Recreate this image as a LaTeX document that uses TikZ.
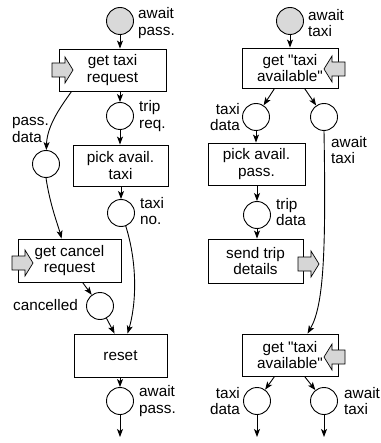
\documentclass[tikz,border=0pt]{standalone}
\usepackage{fontspec}
\setmainfont{Liberation Sans}
\usetikzlibrary{arrows.meta}
\definecolor{tokgray}{RGB}{217,217,217}
\definecolor{arrgray}{RGB}{214,214,214}
\begin{document}
\begin{tikzpicture}[x=1pt,y=-1pt,
  every node/.style={font=\fontsize{15.3}{16.5}\selectfont},
  place/.style={circle,draw,line width=0.9pt,minimum size=27pt,inner sep=0pt},
  token/.style={place,fill=tokgray},
  trans/.style={draw,line width=0.9pt,align=center,inner sep=0pt},
  lbl/.style={inner sep=0pt,align=left},
  lblr/.style={inner sep=0pt,align=right},
  arc/.style={line width=0.9pt,-{Stealth[length=8pt,width=6pt,inset=2pt]}},
  ioarrow/.style={draw,line width=0.7pt,fill=arrgray},
  inarrow/.pic={\path[ioarrow] (0,-7) -- (13,-7) -- (13,-13) -- (21,0) -- (13,13) -- (13,7) -- (0,7) -- cycle;}
]
\useasboundingbox (0,0) rectangle (380,443);

% ---------- left net ----------
\node[token] (p1) at (120,21) {};
\node[lbl,anchor=west] (l1) at (138,23) {await\\pass.};
\node[trans,minimum width=107pt,minimum height=42pt] (t1) at (112.5,70) {get taxi\\request};
\node[place] (p2) at (120,116) {};
\node[lbl,anchor=west] (l2) at (139,116) {trip\\req.};
\node[place] (p3) at (46,164) {};
\node[lbl,anchor=west] (l3) at (12,130) {pass.\\data};
\node[trans,minimum width=95pt,minimum height=41pt] (t2) at (120.5,165.5) {pick avail.\\taxi};
\node[place] (p4) at (121,213) {};
\node[lbl,anchor=west] (l4) at (140,211) {taxi\\no.};
\node[trans,minimum width=103pt,minimum height=43pt] (t3) at (69.5,260.5) {get cancel\\request};
\node[place] (p5) at (100,306) {};
\node[lbl,anchor=east] (l5) at (78,305) {cancelled};
\node[trans,minimum width=93pt,minimum height=43pt] (t4) at (120.5,355.5) {reset};
\node[place] (p6) at (120,401) {};
\node[lbl,anchor=west] (l6) at (139,401) {await\\pass.};
\coordinate (e1) at (120,437);

\draw[arc] (p1) -- (p1 |- t1.north);
\draw[arc] (t1.south -| p2) -- (p2);
\draw[arc] ([xshift=13pt]t1.south west) .. controls (62,105) and (47,125) .. (p3);
\draw[arc] (p2) -- (p2 |- t2.north);
\draw[arc] (t2.south -| p4) -- (p4);
\draw[arc] (p3.south) .. controls (50,205) and (58,225) .. ([xshift=44pt]t3.north west);
\draw[arc] ([xshift=65pt]t3.south west) -- (p5);
\draw[arc] (p5) -- ([xshift=41pt]t4.north west);
\draw[arc] (p4.-70) .. controls (138,265) and (136,305) .. ([xshift=54pt]t4.north west);
\draw[arc] (t4.south -| p6) -- (p6);
\draw[arc] (p6) -- (e1);

\pic at (52,70) {inarrow};
\pic at (12,263) {inarrow};

% ---------- right net ----------
\node[token] (q1) at (290,21) {};
\node[lbl,anchor=west] (m1) at (308,23) {await\\taxi};
\node[trans,minimum width=96pt,minimum height=40pt] (r1) at (290,68) {get \textquotedbl taxi\\available\textquotedbl};
\node[place] (q2) at (256,117) {};
\node[lblr,anchor=east] (m2) at (240,117) {taxi\\data};
\node[place] (q3) at (324,117) {};
\node[lbl,anchor=west] (m3) at (331,150) {await\\taxi};
\node[trans,minimum width=97pt,minimum height=42pt] (r2) at (256.5,164) {pick avail.\\pass.};
\node[place] (q4) at (257,215) {};
\node[lbl,anchor=west] (m4) at (276,212) {trip\\data};
\node[trans,minimum width=95pt,minimum height=44pt] (r3) at (255.5,261) {send trip\\details};
\node[trans,minimum width=96pt,minimum height=42pt] (r4) at (290,355) {get \textquotedbl taxi\\available\textquotedbl};
\node[place] (q5) at (257,401) {};
\node[lblr,anchor=east] (m5) at (240,401) {taxi\\data};
\node[place] (q6) at (324,401) {};
\node[lbl,anchor=west] (m6) at (344,401) {await\\taxi};
\coordinate (e2) at (257,437);
\coordinate (e3) at (324,437);

\draw[arc] (q1) -- (q1 |- r1.north);
\draw[arc] ([xshift=33pt]r1.south west) -- (q2);
\draw[arc] ([xshift=63pt]r1.south west) -- (q3);
\draw[arc] (q2) -- (q2 |- r2.north);
\draw[arc] (r2.south -| q4) -- (q4);
\draw[arc] (q4) -- (q4 |- r3.north);
\draw[arc] (q3.south) .. controls (326,250) and (324,305) .. ([xshift=66pt]r4.north west);
\draw[arc] ([xshift=33pt]r4.south west) -- (q5);
\draw[arc] ([xshift=63pt]r4.south west) -- (q6);
\draw[arc] (q5) -- (e2);
\draw[arc] (q6) -- (e3);

\pic[xscale=-1] at (345,69) {inarrow};
\pic at (298,264) {inarrow};
\pic[xscale=-1] at (345,357) {inarrow};
\end{tikzpicture}
\end{document}
